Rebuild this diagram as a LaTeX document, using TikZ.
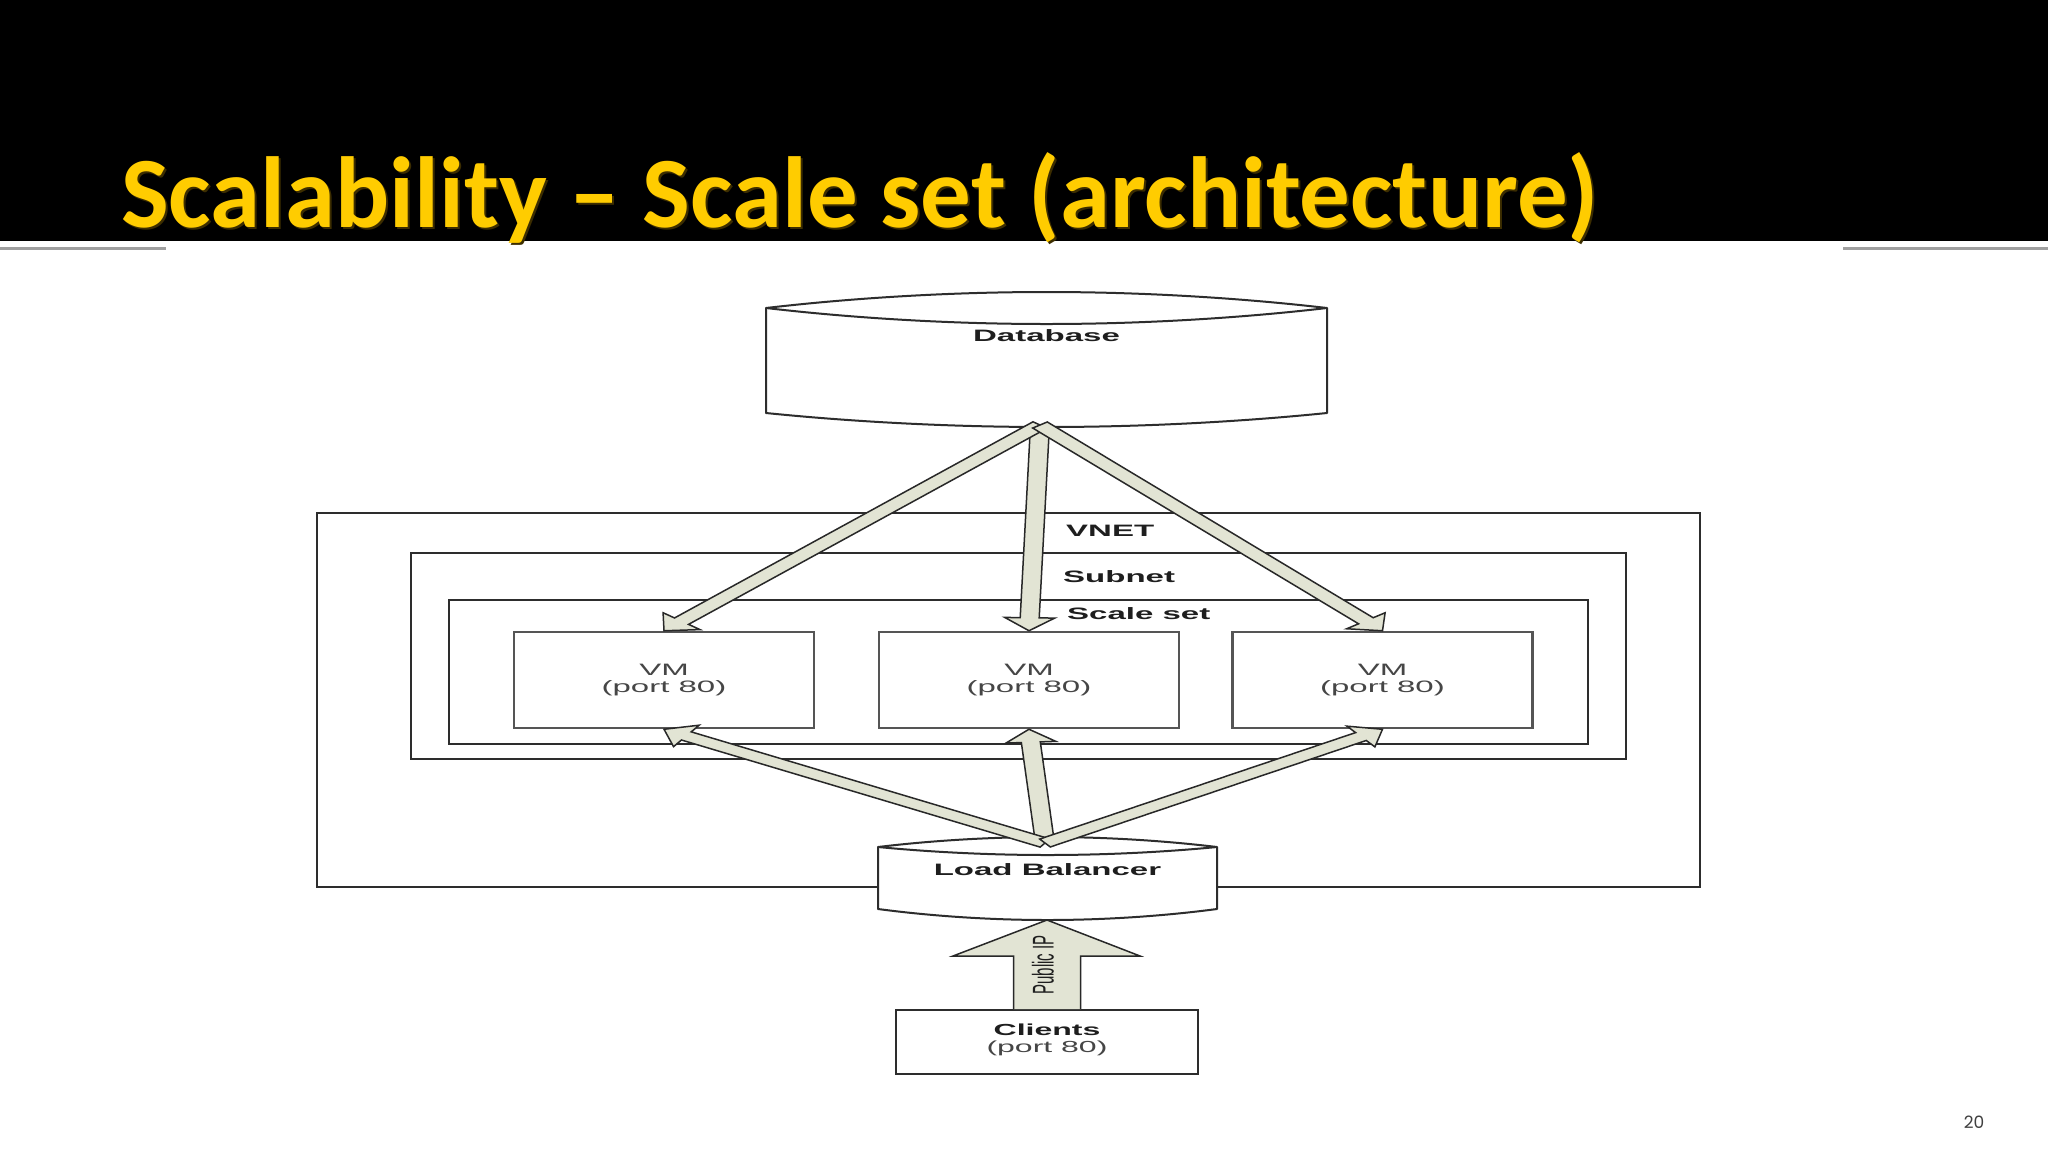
\documentclass[tikz,border=0pt]{standalone}
\usepackage{fontspec}
\usepackage{graphicx}
\setmainfont{Liberation Sans}
\newfontfamily\titlefont{Carlito}
\newfontfamily\numfont{Poppins}
\usetikzlibrary{calc}
\definecolor{titleyellow}{RGB}{255,204,0}
\definecolor{titleshadow}{RGB}{60,45,0}
\definecolor{sepgray}{RGB}{160,160,160}
\definecolor{boxline}{RGB}{45,45,45}
\definecolor{vmline}{RGB}{85,85,85}
\definecolor{arrfill}{RGB}{226,228,212}
\definecolor{arrline}{RGB}{40,40,40}
\definecolor{txtdark}{RGB}{30,30,30}
\definecolor{txtgray}{RGB}{70,70,70}
\definecolor{numgray}{RGB}{64,64,64}
\newcommand{\wide}[1]{\scalebox{2}[1]{#1}}
\newcommand{\blockarr}[2]{%
  \path (#1); \pgfgetlastxy{\bAx}{\bAy}%
  \path (#2); \pgfgetlastxy{\bBx}{\bBy}%
  \pgfmathsetmacro{\bAng}{atan2((\bBy)-(\bAy),((\bBx)-(\bAx))/2)}%
  \pgfmathsetmacro{\bLen}{veclen(((\bBx)-(\bAx))/2,(\bBy)-(\bAy))}%
  \pgfmathsetmacro{\bNeck}{\bLen-13}%
  \begin{scope}[shift={(#1)}, xscale=2, rotate=\bAng, x=1pt, y=1pt]
    \draw[blockarrow] (0,4.75) -- (\bNeck,4.75) -- (\bNeck,12.5) -- (\bLen,0)
      -- (\bNeck,-12.5) -- (\bNeck,-4.75) -- (0,-4.75) -- cycle;
  \end{scope}}
\begin{document}
\begin{tikzpicture}[x=1pt,y=-1pt,
  frame/.style={draw=boxline, line width=2pt},
  vmbox/.style={draw=vmline, line width=2.5pt, fill=white, minimum width=300pt,
    minimum height=96pt, inner sep=0pt, align=center,
    font=\fontsize{16.5}{17.6}\selectfont, text=txtgray},
  lbl/.style={font=\fontsize{16.5}{18}\selectfont\bfseries, text=txtdark, inner sep=0pt},
  cyl/.style={draw=boxline, line width=2pt, fill=white, line join=round},
  blockarrow/.style={fill=arrfill, draw=arrline, line width=1.5pt, line join=miter}]
\useasboundingbox (0,0) rectangle (2048,1152);
\fill[white] (0,0) rectangle (2048,1152);
% header
\fill[black] (0,0) rectangle (2048,241);
\draw[sepgray, line width=3pt] (0,248) -- (166,248);
\draw[sepgray, line width=3pt] (1843,248) -- (2048,248);
\node[anchor=base west, inner sep=0pt, text=titleshadow,
  font=\titlefont\bfseries\fontsize{101}{112}\selectfont] (titleshadow) at (123,229)
  {Scalability – Scale set (architecture)};
\node[anchor=base west, inner sep=0pt, text=titleyellow,
  font=\titlefont\bfseries\fontsize{101}{112}\selectfont] (title) at (121,227)
  {Scalability – Scale set (architecture)};
\node[font=\numfont\fontsize{17}{20}\selectfont, text=numgray] (pagenum) at (1974,1122) {20};

% containers
\draw[frame] (317,513) rectangle (1700,887);
\draw[frame] (411,553) rectangle (1626,759);
\draw[frame] (449,600) rectangle (1588,744);
\node[lbl, anchor=west] (vnetlbl) at (1066,531) {\wide{VNET}};
\node[lbl, anchor=west] (subnetlbl) at (1063,577) {\wide{Subnet}};
\node[lbl, anchor=west] (scalesetlbl) at (1067,614) {\wide{Scale set}};

% VMs
\node[vmbox] (vm1) at (664,680) {\wide{VM}\\\wide{(port 80)}};
\node[vmbox] (vm2) at (1029,680) {\wide{VM}\\\wide{(port 80)}};
\node[vmbox] (vm3) at (1382.5,680) {\wide{VM}\\\wide{(port 80)}};

% Database cylinder
\filldraw[cyl] (766,308) parabola bend (1046.5,292) (1327,308) -- (1327,413)
  parabola bend (1046.5,427) (766,413) -- cycle;
\draw[cyl, fill=none] (766,308) parabola bend (1046.5,324) (1327,308);
\node[lbl] (dblabel) at (1046.5,336) {\wide{Database}};
\coordinate (dbout) at (1040,425);

% Load balancer cylinder
\filldraw[cyl] (878,847) parabola bend (1047.5,837) (1217,847) -- (1217,909)
  parabola bend (1047.5,920) (878,909) -- cycle;
\draw[cyl, fill=none] (878,847) parabola bend (1047.5,855) (1217,847);
\node[lbl] (lblabel) at (1047.5,870) {\wide{Load Balancer}};
\coordinate (lbout) at (1045,843);
\coordinate (lbtip) at (1047,920);

% arrows database -> VMs
\blockarr{dbout}{vm2.north}
\blockarr{dbout}{vm1.north}
\blockarr{dbout}{vm3.north}
% arrows load balancer -> VMs
\blockarr{lbout}{vm2.south}
\blockarr{lbout}{vm1.south}
\blockarr{lbout}{vm3.south}

% Clients
\node[draw=boxline, line width=2pt, fill=white, minimum width=302pt, minimum height=64pt,
  inner sep=0pt] (clients) at (1047,1042) {};
\node[align=center, inner sep=0pt, font=\fontsize{16}{17.6}\selectfont, text=txtgray]
  (clientslbl) at (1047,1040) {\wide{\bfseries\color{txtdark}Clients}\\\wide{(port 80)}};

% Public IP arrow
\draw[blockarrow] ($(clients.north)+(-33.5,0)$) -- ($(clients.north)+(-33.5,-53)$)
  -- ($(clients.north)+(-94,-53)$) -- (lbtip) -- ($(clients.north)+(93,-53)$)
  -- ($(clients.north)+(33.5,-53)$) -- ($(clients.north)+(33.5,0)$);
\node[rotate=90, inner sep=0pt, font=\fontsize{15}{16}\selectfont, text=txtdark]
  (publicip) at (1043,965) {\scalebox{1}[2]{Public IP}};
\end{tikzpicture}
\end{document}
